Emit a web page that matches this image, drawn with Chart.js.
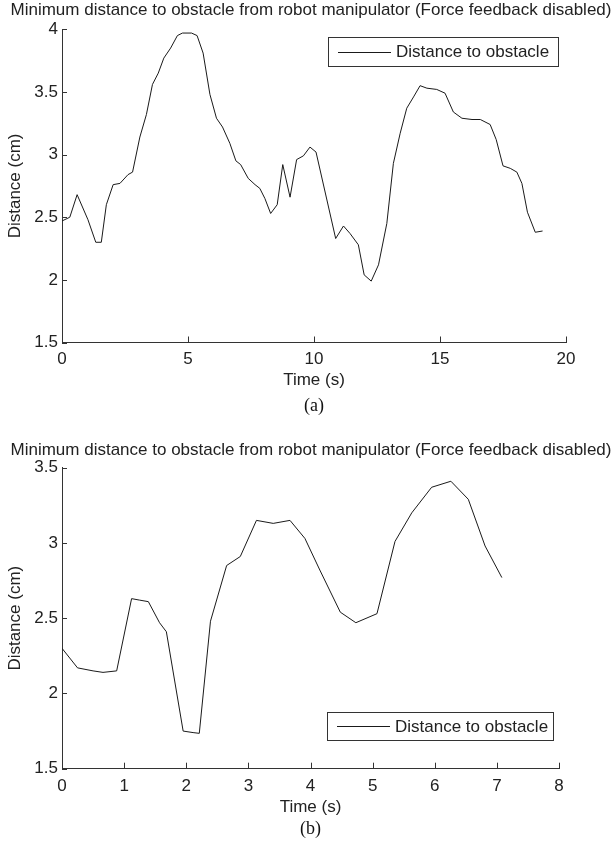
<!DOCTYPE html>
<html>
<head>
<meta charset="utf-8">
<script src="https://cdn.jsdelivr.net/npm/chart.js@4.4.1/dist/chart.umd.min.js"></script>
<style>
  html, body { margin: 0; padding: 0; background: #fff; }
  .wrap { position: absolute; left: 0; width: 613px; }
  #wrapA { top: 0; height: 420px; }
  #wrapB { top: 420px; height: 422px; }
</style>
</head>
<body>
<div class="wrap" id="wrapA"><canvas id="chartA"></canvas></div>
<div class="wrap" id="wrapB"><canvas id="chartB"></canvas></div>
<script>
const titleText = 'Minimum distance to obstacle from robot manipulator (Force feedback disabled)';
const seriesLabel = 'Distance to obstacle';

// (a) run, 0..19 s
const timeA = [0, 0.31, 0.6, 1.03, 1.34, 1.56, 1.76, 2.03, 2.3, 2.62, 2.8, 3.09, 3.35, 3.59, 3.82,
  4.04, 4.31, 4.58, 4.78, 5.14, 5.36, 5.6, 5.87, 6.13, 6.37, 6.66, 6.9, 7.09, 7.39, 7.66, 7.85,
  8.05, 8.28, 8.54, 8.76, 9.05, 9.31, 9.58, 9.84, 10.08, 10.86, 11.17, 11.43, 11.76, 11.99, 12.27,
  12.56, 12.89, 13.15, 13.42, 13.68, 13.95, 14.21, 14.48, 14.87, 15.2, 15.53, 15.87, 16.27, 16.6,
  16.99, 17.23, 17.5, 17.79, 18.05, 18.25, 18.47, 18.78, 19.07];
const distA = [2.47, 2.50, 2.68, 2.48, 2.30, 2.30, 2.60, 2.76, 2.77, 2.84, 2.86, 3.14, 3.32, 3.56, 3.65,
  3.77, 3.85, 3.95, 3.97, 3.97, 3.95, 3.81, 3.48, 3.29, 3.22, 3.09, 2.95, 2.92, 2.81, 2.76, 2.73,
  2.65, 2.53, 2.60, 2.92, 2.66, 2.96, 2.99, 3.06, 3.02, 2.33, 2.43, 2.37, 2.28, 2.04, 1.99,
  2.12, 2.45, 2.93, 3.17, 3.37, 3.46, 3.55, 3.53, 3.52, 3.49, 3.34, 3.29, 3.28, 3.28,
  3.24, 3.12, 2.91, 2.89, 2.86, 2.77, 2.54, 2.38, 2.39];
const xTicksA = [0, 5, 10, 15, 20];
const yTicksA = [1.5, 2, 2.5, 3, 3.5, 4];

// (b) run, 0..7 s
const timeB = [0, 0.25, 0.5, 0.66, 0.88, 1.12, 1.25, 1.39, 1.57, 1.68, 1.95, 2.11, 2.21, 2.39,
  2.65, 2.87, 3.13, 3.40, 3.67, 3.91, 4.15, 4.48, 4.73, 5.07, 5.36, 5.63, 5.95, 6.26, 6.54, 6.81, 7.08];
const distB = [2.30, 2.17, 2.15, 2.14, 2.15, 2.63, 2.62, 2.61, 2.47, 2.41, 1.75, 1.74, 1.735, 2.48,
  2.85, 2.91, 3.15, 3.13, 3.15, 3.03, 2.82, 2.54, 2.47, 2.53, 3.01, 3.20, 3.37, 3.41, 3.29, 2.98, 2.77];
const xTicksB = [0, 1, 2, 3, 4, 5, 6, 7, 8];
const yTicksB = [1.5, 2, 2.5, 3, 3.5];

const sansFont = '"Liberation Sans", Arial, sans-serif';
const inkColor = '#222';

// matlab style ticks pointing into the plot
const inwardTicks = {
  id: 'inwardTicks',
  afterDatasetsDraw(chart) {
    const { ctx, chartArea, scales } = chart;
    ctx.save();
    ctx.strokeStyle = '#333';
    ctx.lineWidth = 1;
    ctx.beginPath();
    scales.x.ticks.forEach((t) => {
      const x = Math.round(scales.x.getPixelForValue(t.value)) + 0.5;
      ctx.moveTo(x, chartArea.bottom);
      ctx.lineTo(x, chartArea.bottom - 6);
    });
    scales.y.ticks.forEach((t) => {
      const y = Math.round(scales.y.getPixelForValue(t.value)) + 0.5;
      ctx.moveTo(chartArea.left, y);
      ctx.lineTo(chartArea.left + 5, y);
    });
    ctx.stroke();
    ctx.restore();
  }
};

// boxed legend drawn inside the plot area
const boxLegend = {
  id: 'boxLegend',
  afterDraw(chart, args, opts) {
    const { ctx, chartArea } = chart;
    const w = opts.width, h = opts.height;
    const x = Math.round(chartArea.right - opts.right - w);
    const y = Math.round(opts.top != null ? chartArea.top + opts.top : chartArea.bottom - opts.bottom - h);
    const ds = chart.data.datasets[0];
    ctx.save();
    ctx.fillStyle = '#fff';
    ctx.fillRect(x, y, w, h);
    ctx.strokeStyle = '#333';
    ctx.lineWidth = 1;
    ctx.strokeRect(x + 0.5, y + 0.5, w, h);
    const cy = Math.round(y + h / 2) + 0.5;
    ctx.strokeStyle = ds.borderColor;
    ctx.beginPath();
    ctx.moveTo(x + 10, cy);
    ctx.lineTo(x + 63, cy);
    ctx.stroke();
    ctx.fillStyle = inkColor;
    ctx.font = '17px ' + sansFont;
    ctx.textBaseline = 'middle';
    ctx.fillText(ds.label, x + 68, y + h / 2 + 1);
    ctx.restore();
  }
};

function makeChart(id, times, dists, xTicks, yTicks, lay) {
  const ctx = document.getElementById(id).getContext('2d');
  return new Chart(ctx, {
    type: 'line',
    data: {
      datasets: [{
        label: seriesLabel,
        data: times.map((t, i) => ({ x: t, y: dists[i] })),
        borderColor: '#1a1a1a',
        borderWidth: 1,
        pointRadius: 0,
        tension: 0,
        fill: false,
      }],
    },
    options: {
      responsive: true,
      maintainAspectRatio: false,
      animation: false,
      layout: { padding: { left: 9, right: 0, top: 0, bottom: 0 } },
      scales: {
        x: {
          type: 'linear',
          min: xTicks[0],
          max: xTicks[xTicks.length - 1],
          afterBuildTicks: (s) => { s.ticks = xTicks.map((v) => ({ value: v })); },
          afterFit: (s) => { s.height = 50; },
          grid: { display: false, drawTicks: false },
          border: { display: true, color: '#333', width: 1 },
          ticks: { color: inkColor, padding: 7, font: { family: sansFont, size: 17 }, callback: (v) => String(v) },
          title: {
            display: true,
            text: 'Time (s)',
            color: inkColor,
            font: { family: sansFont, size: 17 },
            padding: { top: 0, bottom: 1.5 },
          },
        },
        y: {
          min: yTicks[0],
          max: yTicks[yTicks.length - 1],
          afterBuildTicks: (s) => { s.ticks = yTicks.map((v) => ({ value: v })); },
          afterFit: (s) => { s.width = 53; },
          grid: { display: false, drawTicks: false },
          border: { display: true, color: '#333', width: 1 },
          ticks: { color: inkColor, padding: 4, font: { family: sansFont, size: 17 }, callback: (v) => String(v) },
          title: {
            display: true,
            text: 'Distance (cm)',
            color: inkColor,
            font: { family: sansFont, size: 17 },
            padding: { top: -4, bottom: 0 },
          },
        },
        // empty right axis that only reserves the margin on the right
        yRight: {
          position: 'right',
          display: true,
          afterFit: (s) => { s.width = lay.padRight; },
          grid: { display: false, drawTicks: false },
          border: { display: false },
          ticks: { display: false },
        },
      },
      plugins: {
        legend: { display: false },
        tooltip: { enabled: false },
        title: {
          display: true,
          text: titleText,
          color: inkColor,
          font: { family: sansFont, size: 17, weight: 'normal' },
          padding: lay.titlePad,
        },
        subtitle: {
          display: true,
          position: 'bottom',
          fullSize: false,
          text: lay.caption,
          color: '#111',
          font: { family: '"Liberation Serif", "Times New Roman", serif', size: 18, weight: 'normal' },
          padding: lay.capPad,
        },
        boxLegend: lay.legend,
      },
    },
    plugins: [inwardTicks, boxLegend],
  });
}

makeChart('chartA', timeA, distA, xTicksA, yTicksA, {
  padRight: 47,
  titlePad: { top: 0, bottom: 8.9 },
  caption: '(a)',
  capPad: { top: 3, bottom: 2.9 },
  legend: { right: 8, top: 8, width: 230, height: 29 },
});

makeChart('chartB', timeB, distB, xTicksB, yTicksB, {
  padRight: 54,
  titlePad: { top: 19.8, bottom: 7.5 },
  caption: '(b)',
  capPad: { top: 0, bottom: 1.7 },
  legend: { right: 6, bottom: 29, width: 226, height: 28 },
});
</script>
</body>
</html>
